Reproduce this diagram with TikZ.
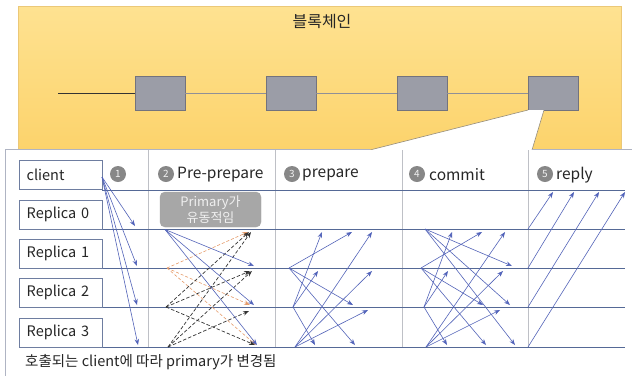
\documentclass[tikz,border=0pt]{standalone}
\usepackage{fontspec}
\setmainfont{Noto Sans CJK KR}
\usetikzlibrary{arrows.meta}
\definecolor{lineblue}{RGB}{85,105,150}
\definecolor{arrblue}{RGB}{75,95,195}
\definecolor{boxborder}{RGB}{110,125,160}
\definecolor{divgray}{RGB}{190,192,198}
\definecolor{circgray}{RGB}{135,135,135}
\definecolor{ytop}{RGB}{254,226,145}
\definecolor{ybot}{RGB}{252,210,105}
\definecolor{yborder}{RGB}{235,200,120}
\definecolor{blockfill}{RGB}{155,157,167}
\definecolor{blockborder}{RGB}{115,115,125}
\definecolor{orangedash}{RGB}{230,155,105}
\definecolor{panelborder}{RGB}{175,180,195}
\definecolor{calloutline}{RGB}{150,140,120}
\tikzset{
  block/.style={draw=blockborder,fill=blockfill,minimum width=50pt,minimum height=34pt,inner sep=0pt},
  actor/.style={draw=boxborder,fill=white,text width=68pt,inner xsep=7.5pt,inner ysep=0pt,minimum height=29pt,align=left,anchor=south west,text=black!85,font=\fontsize{14.5}{16}\selectfont},
  lifeline/.style={draw=lineblue,line width=0.7pt},
  divider/.style={draw=divgray,line width=0.6pt},
  arr/.style={draw=arrblue!85!gray,line width=0.6pt,-{Stealth[length=6pt,width=4.5pt,fill=arrblue]}},
  oarr/.style={draw=orangedash,line width=0.6pt,dash pattern=on 3pt off 2pt,-{Stealth[length=6pt,width=4.5pt,fill=orangedash]}},
  karr/.style={draw=black!80,line width=0.7pt,dash pattern=on 3.5pt off 2pt,-{Stealth[length=6pt,width=4.5pt]}},
  stepnum/.style={circle,fill=circgray,minimum size=16pt,inner sep=0pt,text=white!90!gray,font=\fontsize{10}{10}\selectfont},
  phaselabel/.style={anchor=west,inner sep=0pt,text=black!85,font=\fontsize{15.5}{17}\selectfont}
}
\begin{document}
\begin{tikzpicture}[x=1pt,y=-1pt]
\useasboundingbox (0,0) rectangle (632,376);
% blockchain background
\shade[top color=ytop,bottom color=ybot,draw=yborder] (18,6) rectangle (621,160);
\node[font=\fontsize{16}{18}\selectfont,text=black!85] (title) at (322,22) {블록체인};
\node[block] (b1) at (160,93) {};
\node[block] (b2) at (291,93) {};
\node[block] (b3) at (422,93) {};
\node[block] (b4) at (553,93) {};
\coordinate (chainstart) at (58,93);
\draw[black!80,line width=0.7pt] (chainstart) -- (b1);
\draw[blockborder!80,line width=0.6pt] (b1) -- (b2) (b2) -- (b3) (b3) -- (b4);
% callout
\coordinate (cl1) at (528,110);
\coordinate (cl2) at (544,110);
\coordinate (cl3) at (532,150);
\coordinate (cl4) at (370,150);
\fill[white] (cl1) -- (cl2) -- (cl3) -- (cl4) -- cycle;
\draw[calloutline,line width=0.6pt] (cl1) -- (cl4);
\draw[calloutline,line width=0.6pt] (cl2) -- (cl3);
% panel
\fill[white] (5,149.5) rectangle (632,376);
\draw[panelborder,line width=0.7pt] (370,149.5) -- (5,149.5) -- (5,376);
\draw[panelborder,line width=0.7pt] (532,149.5) -- (632,149.5);
% dividers
\foreach \x in {148,275,402,528} \draw[divider] (\x,150) -- (\x,348);
% lifelines
\coordinate (l0) at (0,229);
\coordinate (l1) at (0,268);
\coordinate (l2) at (0,307);
\coordinate (l3) at (0,347);
\draw[lifeline] (102,190) -- (625,190);
\foreach \i in {0,1,2,3} \draw[lifeline] (19,0 |- l\i) -- (625,0 |- l\i);
% actors
\node[actor] (client) at (19,189.5) {client};
\node[actor] (r0) at (19,229) {Replica 0};
\node[actor] (r1) at (19,268) {Replica 1};
\node[actor] (r2) at (19,307) {Replica 2};
\node[actor] (r3) at (19,347) {Replica 3};
% header
\node[stepnum] (n1) at (118,174) {1};
\node[stepnum] (n2) at (166,174) {2};
\node[stepnum] (n3) at (292,174) {3};
\node[stepnum] (n4) at (417,174) {4};
\node[stepnum] (n5) at (545,174) {5};
\node[phaselabel] (h2) at (177,175) {Pre-prepare};
\node[phaselabel] (h3) at (302,175) {prepare};
\node[phaselabel] (h4) at (429,175) {commit};
\node[phaselabel] (h5) at (556,175) {reply};
% primary box
\node[draw=gray!70,fill=gray!85!black!60,rounded corners=5pt,minimum width=101pt,minimum height=35pt,inner sep=0pt,text=gray!12,font=\fontsize{13}{15.5}\selectfont,align=center] (prim) at (210.5,209.5) {Primary가\\유동적임};
% phase 1: request
\coordinate (req) at (102,177);
\draw[arr] (req) -- (135,226);
\draw[arr] (req) -- (137,266);
\draw[arr] (req) -- (137,305);
\draw[arr] (req) -- (138,345);
% phase 2: pre-prepare
\draw[oarr] (167,268) -- (248,232);
\draw[oarr] (167,268) -- (250,305);
\draw[oarr] (167,268) -- (256,345);
\draw[karr] (166,307) -- (249,232);
\draw[karr] (166,307) -- (250,271);
\draw[karr] (166,307) -- (255,345);
\draw[karr] (168,347) -- (251,232);
\draw[karr] (168,347) -- (252,271);
\draw[karr] (168,347) -- (249,311);
\draw[arr] (165,229.5) -- (254,266);
\draw[arr] (165,229.5) -- (254,305);
\draw[arr] (165,229.5) -- (257,345);
% phase 3: prepare
\foreach \sx/\sy/\tx/\ty in {289/268/352/232, 289/268/353/305, 289/268/355/345,
  293/307/322/232, 293/307/318/271, 293/307/315/345,
  295/347/372/232, 295/347/372/271, 295/347/368/310}
  \draw[arr] (\sx,\sy) -- (\tx,\ty);
% phase 4: commit
\foreach \sx/\sy/\tx/\ty in {425/229/512/266, 425/229/510/305, 425/229/515/345,
  421/268/482/232, 421/268/483/305, 421/268/486/345,
  424/307/452/232, 424/307/448/271, 424/307/447/345,
  426/347/505/232, 426/347/503/271, 426/347/500/310}
  \draw[arr] (\sx,\sy) -- (\tx,\ty);
% phase 5: reply
\draw[arr] (528,229) -- (553,192);
\draw[arr] (528,268) -- (574,192);
\draw[arr] (528,307) -- (599,192);
\draw[arr] (528,347) -- (625,192);
% footnote
\node[anchor=west,inner sep=0pt,font=\fontsize{14.5}{16}\selectfont,text=black!85] (note) at (25,362) {호출되는 client에 따라 primary가 변경됨};
\end{tikzpicture}
\end{document}
